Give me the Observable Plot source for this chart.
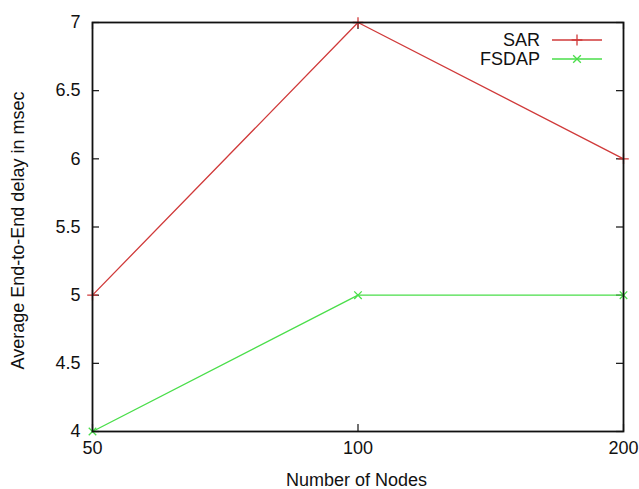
<!DOCTYPE html>
<html><head><meta charset="utf-8">
<script src="https://cdn.jsdelivr.net/npm/d3@7"></script>
<script src="https://cdn.jsdelivr.net/npm/@observablehq/plot@0.6"></script>
<style>body{margin:0;background:#fff;font-family:"Liberation Sans",Arial,sans-serif}</style>
</head><body><div id="chart"></div>
<script>
const nodes = [50, 100, 200];
const sar = [5, 7, 6];
const fsdap = [4, 5, 5];
const yTicks = [4, 4.5, 5, 5.5, 6, 6.5, 7];
const seriesNames = ["SAR", "FSDAP"];
const colors = ["#d03a3a", "#4ade4a"];
const symbols = ["plus", "times"];

const data = [];
nodes.forEach((n, i) => {
  data.push({nodes: n, delay: sar[i], series: "SAR"});
  data.push({nodes: n, delay: fsdap[i], series: "FSDAP"});
});

const W = 639, H = 489, mL = 92, mR = 16, mT = 22, mB = 58;
const ph = H - mT - mB, pw = W - mL - mR, tl = 7;
const FS = 18;

const chart = Plot.plot({
  width: W, height: H,
  marginLeft: mL, marginRight: mR, marginTop: mT, marginBottom: mB,
  style: {fontFamily: '"Liberation Sans", Arial, sans-serif', fontSize: FS + "px", color: "#111", background: "#fff"},
  x: {type: "log", domain: [50, 200], ticks: nodes, tickFormat: d => String(d), label: null},
  y: {domain: [4, 7], ticks: yTicks, tickFormat: d => String(d), label: null},
  color: {domain: seriesNames, range: colors},
  symbol: {domain: seriesNames, range: symbols},
  marks: [
    Plot.axisX({ticks: nodes, tickFormat: d => String(d), tickSize: 0, tickPadding: 10, fontSize: FS, label: null}),
    Plot.axisY({ticks: yTicks, tickFormat: d => String(d), tickSize: 0, tickPadding: 12, fontSize: FS, label: null}),
    Plot.tickX(nodes, {x: d => d, insetTop: ph - tl, stroke: "#111", strokeWidth: 1.2}),
    Plot.tickX(nodes, {x: d => d, insetBottom: ph - tl, stroke: "#111", strokeWidth: 1.2}),
    Plot.tickY(yTicks, {y: d => d, insetRight: pw - tl, stroke: "#111", strokeWidth: 1.2}),
    Plot.tickY(yTicks, {y: d => d, insetLeft: pw - tl, stroke: "#111", strokeWidth: 1.2}),
    Plot.line(data, {x: "nodes", y: "delay", z: "series", stroke: "series", strokeWidth: 1.3}),
    Plot.dot(data, {x: "nodes", y: "delay", stroke: "series", symbol: "series", r: 3.5, strokeWidth: 1.3}),
    Plot.frame({stroke: "#111", strokeWidth: 1.8})
  ]
});

const svg = d3.select(chart);
// axis titles
svg.append("text").attr("x", mL + pw / 2 - 1).attr("y", H - 3).attr("text-anchor", "middle")
  .attr("font-size", FS).attr("fill", "#111").text("Number of Nodes");
svg.append("text").attr("transform", `translate(24,${mT + ph / 2 + 4}) rotate(-90)`).attr("text-anchor", "middle")
  .attr("font-size", FS).attr("fill", "#111").text("Average End-to-End delay in msec");
// legend
seriesNames.forEach((s, i) => {
  const y = 40 + i * 19;
  svg.append("text").attr("x", 540).attr("y", y).attr("dy", "0.35em").attr("text-anchor", "end")
    .attr("font-size", FS).attr("fill", "#111").text(s);
  svg.append("line").attr("x1", 552).attr("x2", 602).attr("y1", y).attr("y2", y)
    .attr("stroke", colors[i]).attr("stroke-width", 1.3);
  const sym = d3.symbol(i === 0 ? d3.symbolPlus : d3.symbolTimes, 40)();
  svg.append("path").attr("d", sym).attr("transform", `translate(577,${y})`)
    .attr("fill", "none").attr("stroke", colors[i]).attr("stroke-width", 1.3);
});
document.getElementById("chart").appendChild(chart);
</script></body></html>
